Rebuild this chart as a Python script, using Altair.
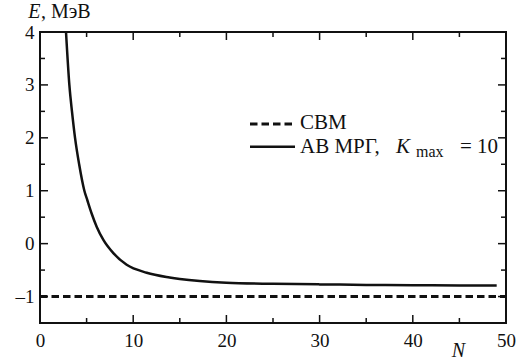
import altair as alt
import pandas as pd

# Curve: АВ МРГ, K_max = 10
N_vals = [2.79, 3.15, 3.43, 3.76, 4.2, 4.76, 5.08, 5.54, 6.08, 6.8, 7.87, 9.3, 11.45, 13.9, 15, 20, 25, 30, 35, 40, 45, 49]
E_vals = [4.0, 3.0, 2.5, 2.0, 1.5, 1.0, 0.82, 0.57, 0.32, 0.07, -0.18, -0.40, -0.55, -0.64, -0.67, -0.74, -0.76, -0.77, -0.78, -0.785, -0.79, -0.79]

# СВМ level
svm_N = [0, 50]
svm_E = [-1.0, -1.0]

x_labels = [0, 10, 20, 30, 40, 50]
y_labels = [-1, 0, 1, 2, 3, 4]
x_major = [10, 20, 30, 40]
x_minor = [5, 15, 25, 35, 45]
y_major = [-1, 0, 1, 2, 3]
y_minor = [-0.5, 0.5, 1.5, 2.5, 3.5]

W, H = 466, 291
FONT = "serif"
INK = "#111111"

xs = alt.Scale(domain=[0, 50], nice=False, zero=False)
ys = alt.Scale(domain=[-1.5, 4], nice=False, zero=False)

curve_df = pd.DataFrame({"N": N_vals, "E": E_vals})
svm_df = pd.DataFrame({"N": svm_N, "E": svm_E})

base_x = alt.X("N:Q", scale=xs, axis=alt.Axis(values=x_labels, format="d", tickSize=0, domain=False, grid=False,
                                               labelFont=FONT, labelFontSize=19, labelColor=INK, labelPadding=8,
                                               title=None, labelFlush=False))
base_y = alt.Y("E:Q", scale=ys, axis=alt.Axis(values=y_labels, format="d", tickSize=0, domain=False, grid=False,
                                               labelFont=FONT, labelFontSize=19, labelColor=INK, labelPadding=6,
                                               labelExpr="datum.value < 0 ? '\u2013' + abs(datum.value) : datum.label",
                                               title=None, labelFlush=False))

curve = alt.Chart(curve_df).mark_line(color=INK, strokeWidth=2.5, interpolate="monotone", clip=True).encode(
    x=base_x, y=base_y)

svm = alt.Chart(svm_df).mark_line(color=INK, strokeWidth=3, strokeDash=[7.5, 4]).encode(
    x=alt.X("N:Q", scale=xs), y=alt.Y("E:Q", scale=ys))


def xticks(vals, length):
    df = pd.DataFrame({"v": vals})
    bot = alt.Chart(df).mark_rule(color=INK, strokeWidth=1.5).encode(
        x=alt.X("v:Q", scale=xs), y=alt.value(H), y2=alt.value(H - length))
    top = alt.Chart(df).mark_rule(color=INK, strokeWidth=1.5).encode(
        x=alt.X("v:Q", scale=xs), y=alt.value(0), y2=alt.value(length))
    return bot + top


def yticks(vals, length):
    df = pd.DataFrame({"v": vals})
    left = alt.Chart(df).mark_rule(color=INK, strokeWidth=1.5).encode(
        y=alt.Y("v:Q", scale=ys), x=alt.value(0), x2=alt.value(length))
    right = alt.Chart(df).mark_rule(color=INK, strokeWidth=1.5).encode(
        y=alt.Y("v:Q", scale=ys), x=alt.value(W), x2=alt.value(W - length))
    return left + right


def txt(s, x, y, size=20, italic=False):
    kw = {"fontStyle": "italic"} if italic else {}
    return alt.Chart(pd.DataFrame({"t": [s]})).mark_text(
        font=FONT, fontSize=size, align="left", baseline="alphabetic", color=INK, **kw).encode(
        text="t:N", x=alt.value(x), y=alt.value(y))


leg_dash = alt.Chart(pd.DataFrame({"t": ["СВМ"]})).mark_rule(color=INK, strokeWidth=3, strokeDash=[7.5, 4]).encode(
    x=alt.value(210), x2=alt.value(253), y=alt.value(92))
leg_solid = alt.Chart(pd.DataFrame({"t": ["АВ МРГ"]})).mark_rule(color=INK, strokeWidth=2.5).encode(
    x=alt.value(210), x2=alt.value(255), y=alt.value(114.7))

chart = alt.layer(
    curve, svm,
    xticks(x_major, 8), xticks(x_minor, 5),
    yticks(y_major, 8), yticks(y_minor, 5),
    leg_dash, leg_solid,
    txt("СВМ", 260, 97, size=21),
    txt("АВ МРГ,", 260, 120.7, size=21),
    txt("K", 356, 120.7, size=21, italic=True),
    txt("max", 376, 124.7, size=16),
    txt("= 10", 420, 120.7, size=21),
    txt("E", -11.7, -13.7, italic=True),
    txt(", МэВ", 1, -13.7),
    txt("N", 411.7, 324.7, italic=True),
).properties(
    width=W, height=H,
    padding={"left": 40, "top": 32, "right": 11, "bottom": 40},
    autosize="none",
    background="white",
).configure_view(stroke=INK, strokeWidth=2).configure_text(font=FONT).configure_axis(labelFont=FONT)

chart.save("out.html", embed_options={"renderer": "svg", "actions": False})
